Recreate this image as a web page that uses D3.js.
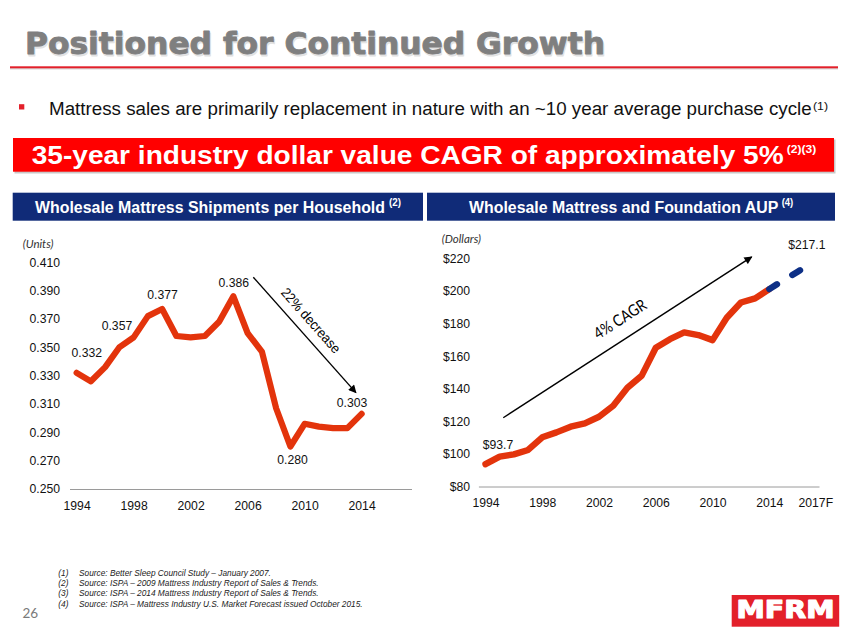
<!DOCTYPE html>
<html><head><meta charset="utf-8">
<script src="https://cdn.jsdelivr.net/npm/d3@7"></script>
<style>body{margin:0;background:#fff} svg{display:block}</style>
</head><body><svg id="c" width="847" height="635"></svg>
<script>
// ---------------- DATA ----------------
const titleText = "Positioned for Continued Growth";
const bulletText = "Mattress sales are primarily replacement in nature with an ~10 year average purchase cycle";
const bulletSup = "(1)";
const bannerText = "35-year industry dollar value CAGR of approximately 5%";
const bannerSup = "(2)(3)";
const leftHeader = "Wholesale Mattress Shipments per Household";
const leftHeaderSup = "(2)";
const rightHeader = "Wholesale Mattress and Foundation AUP";
const rightHeaderSup = "(4)";

const shipYears = [1994,1995,1996,1997,1998,1999,2000,2001,2002,2003,2004,2005,2006,2007,2008,2009,2010,2011,2012,2013,2014];
const shipValues = [0.332,0.326,0.336,0.350,0.357,0.372,0.377,0.358,0.357,0.358,0.368,0.386,0.360,0.347,0.307,0.280,0.296,0.294,0.293,0.293,0.303];
const shipYTicks = [0.250,0.270,0.290,0.310,0.330,0.350,0.370,0.390,0.410];
const shipXTicks = [1994,1998,2002,2006,2010,2014];
const shipLabels = [
  {text:"0.332", year:1994.71, value:0.346},
  {text:"0.357", year:1996.83, value:0.3655},
  {text:"0.377", year:2000.03, value:0.3873},
  {text:"0.386", year:2005.03, value:0.396},
  {text:"0.280", year:2009.15, value:0.2704},
  {text:"0.303", year:2013.33, value:0.3108}
];
const shipArrow = {from:[2006.4,0.3995], to:[2013.6,0.318], text:"22% decrease", tYear:2010.45, tValue:0.369};

const aupYears = [1994,1995,1996,1997,1998,1999,2000,2001,2002,2003,2004,2005,2006,2007,2008,2009,2010,2011,2012,2013,2014];
const aupValues = [93.7,98.3,99.7,102.4,110.2,113.2,116.7,118.7,122.8,129.5,140.6,147.9,165.1,170.4,174.5,172.9,169.8,183.5,192.9,195.4,201.1];
const forecastYears = [2014,2015,2016,2017];
const forecastValues = [201.1,206.6,211.8,217.1];
const aupYTicks = [80,100,120,140,160,180,200,220];
const aupXTicks = [1994,1998,2002,2006,2010,2014,2017];
const aupXTickLabels = ["1994","1998","2002","2006","2010","2014","2017F"];
const aupLabels = [
  {text:"$93.7", year:1994.88, value:105.9},
  {text:"$217.1", year:2016.64, value:228.1}
];
const aupArrow = {from:[1995.25,122.2], to:[2012.76,220.9], text:"4% CAGR", tYear:2003.48, tValue:182.7};

const footnotes = [
  ["(1)","Source: Better Sleep Council Study \u2013 January 2007."],
  ["(2)","Source: ISPA \u2013 2009 Mattress Industry Report of Sales & Trends."],
  ["(3)","Source: ISPA \u2013 2014 Mattress Industry Report of Sales & Trends."],
  ["(4)","Source: ISPA \u2013 Mattress Industry U.S. Market Forecast issued October 2015."]
];
const pageNumber = "26";
const logoText = "MFRM";

// ---------------- STYLE ----------------
const RED_LINE = "#e3340c";
const BLUE_LINE = "#0d2f86";
const NAVY = "#102b78";
const SANS = "'Liberation Sans', Arial, Helvetica, sans-serif";
const CAL = "Lato, 'Open Sans', sans-serif";

const svg = d3.select("#c");
function fit(sel, w){ return sel.attr("textLength", w).attr("lengthAdjust","spacingAndGlyphs"); }

// defs
const defs = svg.append("defs");
defs.append("marker").attr("id","ah").attr("viewBox","0 0 10 10").attr("refX",9).attr("refY",5)
  .attr("markerWidth",9).attr("markerHeight",8).attr("markerUnits","userSpaceOnUse").attr("orient","auto")
  .append("path").attr("d","M0,0 L10,5 L0,10 Z").attr("fill","#000");

// ---------------- TITLE ----------------
fit(svg.append("text").attr("x",26).attr("y",55.5).text(titleText)
  .attr("font-family","'DejaVu Sans', sans-serif").attr("font-weight","bold").attr("font-size",30.5)
  .attr("fill","#e2e2e2").attr("stroke","#e2e2e2").attr("stroke-width",0.9).attr("stroke-linejoin","round"), 580);
fit(svg.append("text").attr("x",25).attr("y",54.3).text(titleText)
  .attr("font-family","'DejaVu Sans', sans-serif").attr("font-weight","bold").attr("font-size",30.5)
  .attr("fill","#7f7f7f").attr("stroke","#7f7f7f").attr("stroke-width",0.9).attr("stroke-linejoin","round"), 580);
svg.append("rect").attr("x",10).attr("y",68).attr("width",828).attr("height",1.5).attr("fill","#d8d8d8");
svg.append("rect").attr("x",10).attr("y",66.3).attr("width",828).attr("height",2).attr("fill","#e3202a");

// bullet
svg.append("rect").attr("x",19).attr("y",104.2).attr("width",5.3).attr("height",5.3).attr("fill","#e3202a");
fit(svg.append("text").attr("x",49).attr("y",115).text(bulletText)
  .attr("font-family",SANS).attr("font-size",17.6).attr("fill","#111"), 762.7);
fit(svg.append("text").attr("x",813).attr("y",110).text(bulletSup)
  .attr("font-family",SANS).attr("font-size",11).attr("fill","#111"), 15);

// banner
svg.append("rect").attr("x",14.5).attr("y",139.5).attr("width",821).attr("height",34).attr("fill","#c8c8c8");
svg.append("rect").attr("x",13).attr("y",138).attr("width",821).attr("height",33.7).attr("fill","#ff0000");
fit(svg.append("text").attr("x",31.7).attr("y",164.3).text(bannerText)
  .attr("font-family",SANS).attr("font-weight","bold").attr("font-size",25.5).attr("fill","#fff"), 752);
fit(svg.append("text").attr("x",786.7).attr("y",152.5).text(bannerSup)
  .attr("font-family",SANS).attr("font-weight","bold").attr("font-size",11.5).attr("fill","#fff"), 29.5);

// headers
svg.append("rect").attr("x",12.7).attr("y",192.7).attr("width",410.3).attr("height",28).attr("fill",NAVY);
svg.append("rect").attr("x",427).attr("y",192.7).attr("width",408).attr("height",28).attr("fill",NAVY);
fit(svg.append("text").attr("x",35).attr("y",212.5).text(leftHeader)
  .attr("font-family",SANS).attr("font-weight","bold").attr("font-size",15.8).attr("fill","#fff"), 350);
fit(svg.append("text").attr("x",389).attr("y",205.5).text(leftHeaderSup)
  .attr("font-family",SANS).attr("font-weight","bold").attr("font-size",10).attr("fill","#fff"), 12);
fit(svg.append("text").attr("x",469).attr("y",212.5).text(rightHeader)
  .attr("font-family",SANS).attr("font-weight","bold").attr("font-size",15.8).attr("fill","#fff"), 309.3);
fit(svg.append("text").attr("x",781.7).attr("y",205.5).text(rightHeaderSup)
  .attr("font-family",SANS).attr("font-weight","bold").attr("font-size",10).attr("fill","#fff"), 11.6);

// ---------------- LEFT CHART ----------------
const xL = d3.scaleLinear().domain([1993.5,2017.5]).range([69.5,411.5]);
const yL = d3.scaleLinear().domain([0.25,0.41]).range([489,262.3]);

const gxL = svg.append("g").attr("transform",`translate(0,${yL(0.25)})`)
  .call(d3.axisBottom(xL).tickValues(shipXTicks).tickFormat(d3.format("d")).tickSize(0).tickPadding(12));
gxL.select(".domain").attr("stroke","#9a9a9a").attr("stroke-width",1);
gxL.selectAll("text").attr("font-family",SANS).attr("font-size",12.2).attr("fill","#111");

const gyL = svg.append("g").attr("transform","translate(60,0)")
  .call(d3.axisLeft(yL).tickValues(shipYTicks).tickFormat(d3.format(".3f")).tickSize(0).tickPadding(0));
gyL.select(".domain").remove();
gyL.selectAll("text").attr("font-family",SANS).attr("font-size",12.2).attr("fill","#111");

svg.append("text").attr("x",22.7).attr("y",247.5).text("(Units)")
  .attr("font-family",CAL).attr("font-style","italic").attr("font-size",11.5).attr("fill","#333");

const lineL = d3.line().x((d,i)=>xL(shipYears[i])).y(d=>yL(d));
svg.append("path").datum(shipValues).attr("d",lineL).attr("fill","none")
  .attr("stroke",RED_LINE).attr("stroke-width",6.2).attr("stroke-linejoin","round").attr("stroke-linecap","round");

svg.selectAll(".lblL").data(shipLabels).enter().append("text")
  .attr("x",d=>xL(d.year)).attr("y",d=>yL(d.value)).attr("dy","0.36em").attr("text-anchor","middle")
  .attr("font-family",SANS).attr("font-size",12.2).attr("fill","#111").text(d=>d.text);

svg.append("line").attr("x1",xL(shipArrow.from[0])).attr("y1",yL(shipArrow.from[1]))
  .attr("x2",xL(shipArrow.to[0])).attr("y2",yL(shipArrow.to[1]))
  .attr("stroke","#000").attr("stroke-width",1.4).attr("marker-end","url(#ah)");
{
  const ang = Math.atan2(yL(shipArrow.to[1])-yL(shipArrow.from[1]), xL(shipArrow.to[0])-xL(shipArrow.from[0]))*180/Math.PI;
  fit(svg.append("text").attr("transform",`translate(${xL(shipArrow.tYear)},${yL(shipArrow.tValue)}) rotate(${ang})`)
    .attr("text-anchor","middle").attr("dy","0.35em").attr("font-family",SANS).attr("font-size",14)
    .attr("fill","#000").text(shipArrow.text), 82);
}

// ---------------- RIGHT CHART ----------------
const xR = d3.scaleLinear().domain([1993.5,2017.5]).range([478.4,819]);
const yR = d3.scaleLinear().domain([80,220]).range([486.5,258.3]);

const gxR = svg.append("g").attr("transform",`translate(0,${yR(80)})`)
  .call(d3.axisBottom(xR).tickValues(aupXTicks).tickFormat((d,i)=>aupXTickLabels[i]).tickSize(0).tickPadding(12));
gxR.select(".domain").attr("stroke","#9a9a9a").attr("stroke-width",1);
gxR.selectAll("text").attr("font-family",SANS).attr("font-size",12.2).attr("fill","#111");
gxR.selectAll(".tick").filter(d=>d===2017).select("text").attr("dx",3.4);

const gyR = svg.append("g").attr("transform","translate(470,0)")
  .call(d3.axisLeft(yR).tickValues(aupYTicks).tickFormat(d=>"$"+d).tickSize(0).tickPadding(0));
gyR.select(".domain").remove();
gyR.selectAll("text").attr("font-family",SANS).attr("font-size",12.2).attr("fill","#111");

svg.append("text").attr("x",441.7).attr("y",242.5).text("(Dollars)")
  .attr("font-family",CAL).attr("font-style","italic").attr("font-size",11.5).attr("fill","#333");

const lineR = d3.line().x((d,i)=>xR(aupYears[i])).y(d=>yR(d));
const lineF = d3.line().x((d,i)=>xR(forecastYears[i])).y(d=>yR(d));
svg.append("path").datum(aupValues).attr("d",lineR).attr("fill","none")
  .attr("stroke",RED_LINE).attr("stroke-width",6.4).attr("stroke-linejoin","round").attr("stroke-linecap","round");
svg.append("path").datum(forecastValues).attr("d",lineF).attr("fill","none")
  .attr("stroke",BLUE_LINE).attr("stroke-width",6.4).attr("stroke-linecap","round").attr("stroke-linejoin","round")
  .attr("stroke-dasharray","9,18");

svg.selectAll(".lblR").data(aupLabels).enter().append("text")
  .attr("x",d=>xR(d.year)).attr("y",d=>yR(d.value)).attr("dy","0.36em").attr("text-anchor","middle")
  .attr("font-family",SANS).attr("font-size",12.2).attr("fill","#111").text(d=>d.text);

svg.append("line").attr("x1",xR(aupArrow.from[0])).attr("y1",yR(aupArrow.from[1]))
  .attr("x2",xR(aupArrow.to[0])).attr("y2",yR(aupArrow.to[1]))
  .attr("stroke","#000").attr("stroke-width",1.4).attr("marker-end","url(#ah)");
{
  const ang = Math.atan2(yR(aupArrow.to[1])-yR(aupArrow.from[1]), xR(aupArrow.to[0])-xR(aupArrow.from[0]))*180/Math.PI;
  fit(svg.append("text").attr("transform",`translate(${xR(aupArrow.tYear)},${yR(aupArrow.tValue)}) rotate(${ang})`)
    .attr("text-anchor","middle").attr("dy","0.35em").attr("font-family",CAL).attr("font-size",16)
    .attr("fill","#000").text(aupArrow.text), 59);
}

// ---------------- FOOTER ----------------
const fn = svg.append("g");
footnotes.forEach((f,i)=>{
  const y = 575.6 + i*10.4;
  fn.append("text").attr("x",58.3).attr("y",y).text(f[0])
    .attr("font-family",SANS).attr("font-style","italic").attr("font-size",8.3).attr("fill","#222");
  fn.append("text").attr("x",79).attr("y",y).text(f[1])
    .attr("font-family",SANS).attr("font-style","italic").attr("font-size",8.3).attr("fill","#222");
});
svg.append("text").attr("x",22.5).attr("y",617.5).text(pageNumber)
  .attr("font-family",CAL).attr("font-size",13.5).attr("fill","#7a7a7a");

svg.append("rect").attr("x",731.7).attr("y",595).attr("width",107.5).attr("height",31.7).attr("fill","#e3202a");
fit(svg.append("text").attr("x",736.5).attr("y",618.3).text(logoText)
  .attr("font-family","'DejaVu Sans', sans-serif").attr("font-weight","bold").attr("font-size",24.5)
  .attr("fill","#fff").attr("stroke","#fff").attr("stroke-width",1.2).attr("stroke-linejoin","round"), 98);
</script></body></html>
